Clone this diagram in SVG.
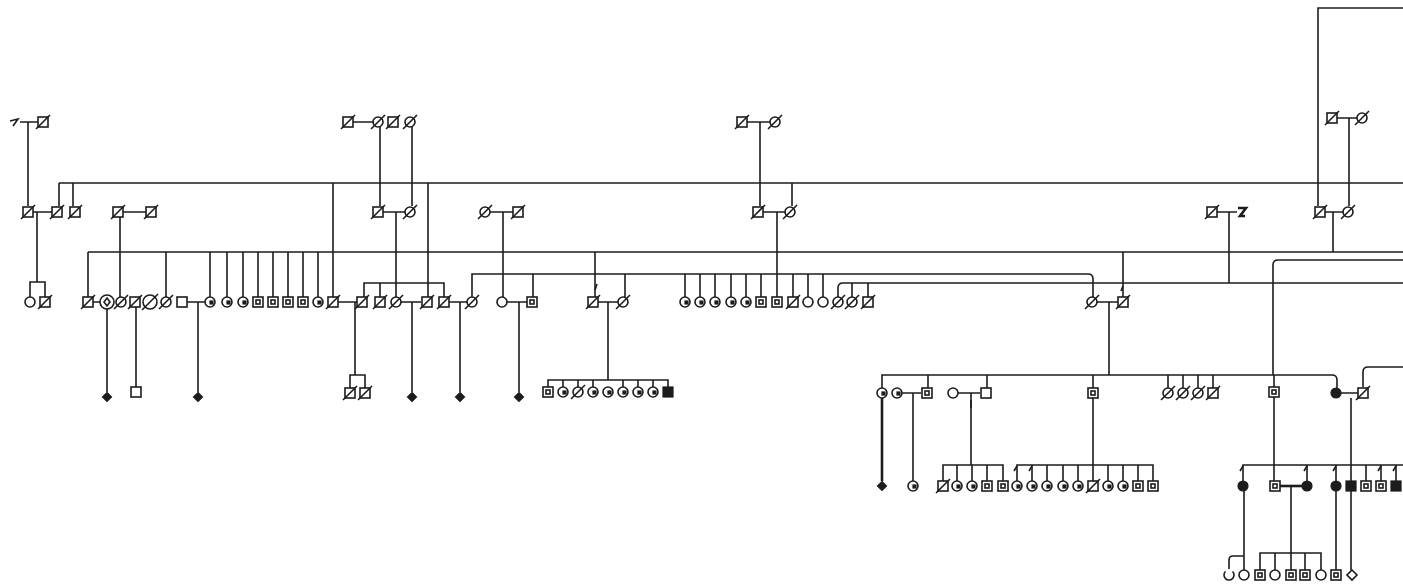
<svg xmlns="http://www.w3.org/2000/svg" xmlns:xlink="http://www.w3.org/1999/xlink" width="1403" height="588" viewBox="0 0 1403 588">
<style>
.s{fill:#fff;stroke:#1c1c1c;stroke-width:1.6}
.k{fill:#1c1c1c;stroke:#1c1c1c;stroke-width:1.2}
.ln{fill:none;stroke:#1c1c1c;stroke-width:1.6}
.th{fill:none;stroke:#1c1c1c;stroke-width:2.6}
</style>
<defs>
<g id="sq"><rect class="s" x="-5" y="-5" width="10" height="10"/></g>
<g id="sqd"><rect class="s" x="-5" y="-5" width="10" height="10"/><line class="ln" x1="-7" y1="7" x2="7" y2="-7"/></g>
<g id="sqg"><rect class="s" x="-5" y="-5" width="10" height="10"/><rect class="s" x="-2" y="-2" width="4" height="4"/></g>
<g id="ci"><circle class="s" r="5"/></g>
<g id="cid"><circle class="s" r="5"/><line class="ln" x1="-7" y1="7" x2="7" y2="-7"/></g>
<g id="cig"><circle class="s" r="5"/><rect class="k" x="0" y="-1" width="3" height="3"/></g>
<g id="fci"><circle class="k" r="5"/></g>
<g id="fsq"><rect class="k" x="-5" y="-5" width="10" height="10"/></g>
<g id="dia"><path class="k" d="M0 -4.5L4.5 0L0 4.5L-4.5 0Z"/></g>
<g id="big"><circle class="s" r="7"/><path class="ln" d="M0 -4L3 0L0 4L-3 0Z"/></g>
<g id="bigd"><circle class="s" r="7"/><line class="ln" x1="-8" y1="8" x2="8" y2="-8"/></g>
</defs>
<rect width="1403" height="588" fill="#fff"/>

<g id="connectors" class="ln">
<path d="M1318 206V8H1403"/>
<path d="M20 122H38M28 122V206"/>
<path d="M353 122H373M380 127V206M412 127V206"/>
<path d="M747 122H770M760 122V206"/>
<path d="M1337 118H1357M1349 118V206"/>
<path d="M59 183H1403M59 183V206M73 183V206M333 183V297M428 183V297M792 183V206"/>
<path d="M33 212H52M37 212V282M30 297V282H45V297"/>
<path d="M123 212H146M120 212V297"/>
<path d="M383 212H405M396 212V297"/>
<path d="M490 212H513M503 212V297"/>
<path d="M763 212H785M777 212V297"/>
<path d="M1217 212H1237M1229 212V283"/>
<path d="M1325 212H1343M1333 212V252"/>
<path d="M88 252H1403M88 252V297M166 252V297M210 252V297M227 252V297M243 252V297M258 252V297M273 252V297M288 252V297M303 252V297M318 252V297M595 252V297M1123 252V297"/>
<path d="M472 297V274H1088Q1093 274 1093 279V297"/>
<path d="M533 274V297M625 274V297M685 274V297M700 274V297M715 274V297M731 274V297M746 274V297M761 274V297M793 274V297M808 274V297M823 274V297"/>
<path d="M838 297V288Q838 283 843 283H1403M852 283V297M868 283V297"/>
<path d="M1273 375V265Q1273 260 1278 260H1403"/>
<path d="M364 297V283H444V297M380 283V297"/>
<path d="M93 302H100M107 309V392M136 307V387"/>
<path d="M187 302H205M198 302V392"/>
<path d="M338 302H357M355 302V375M350 388V375H365V388"/>
<path d="M401 302H421M412 302V392"/>
<path d="M449 302H467M460 302V392"/>
<path d="M507 302H527M519 302V392"/>
<path d="M598 302H618M608 302V380M548 387V380H668V387M563 380V387M578 380V387M593 380V387M623 380V387M638 380V387M653 380V387"/>
<path d="M1097 302H1118M1109 302V375"/>
<path d="M882 388V375H1332Q1337 375 1337 380V388M928 375V388M987 375V388M1093 375V388M1168 375V388M1183 375V388M1198 375V388M1213 375V388M1274 375V387"/>
<path d="M902 393H921M913 393V481"/>
<path d="M958 393H980M971 393V465M943 481V465H1003V481M957 465V481M972 465V481M987 465V481"/>
<path d="M1093 398V481M1017 481V465H1153V481M1032 465V481M1047 465V481M1063 465V481M1078 465V481M1108 465V481M1123 465V481M1138 465V481"/>
<path class="th" d="M882 398V481"/>
<path d="M1341 393H1358M1363 387V372Q1363 367 1368 367H1403M1351 398V570"/>
<path d="M1274 397V481M1243 481V465H1403M1307 465V481M1336 465V481M1366 465V481M1381 465V481M1396 465V481"/>
<path class="th" d="M1280 486H1302"/>
<path d="M1291 486V570M1260 570V553H1321V570M1275 553V570M1305 553V570"/>
<path d="M1244 491V570M1244 556H1233Q1229 556 1229 560V569M1336 491V570"/>
<path d="M971 400V408M597 284l-2 6M1123 286l-2 5M1240 471l3 -5M1304 471l3 -5M1333 471l3 -5M1378 471l3 -5M1393 471l3 -5M1014 471l3 -5M1029 471l3 -5"/>
</g>

<g id="row1">
<g id="r1-15"><path class="ln" d="M10 121L18 119L13 126"/></g>
<g id="r1-43"><use href="#sqd" x="43" y="122"/></g>
<g id="r1-348"><use href="#sqd" x="348" y="122"/></g>
<g id="r1-378"><use href="#cid" x="378" y="122"/></g>
<g id="r1-393"><use href="#sqd" x="393" y="122"/></g>
<g id="r1-410"><use href="#cid" x="410" y="122"/></g>
<g id="r1-742"><use href="#sqd" x="742" y="122"/></g>
<g id="r1-775"><use href="#cid" x="775" y="122"/></g>
<g id="r1-1332"><use href="#sqd" x="1332" y="118"/></g>
<g id="r1-1362"><use href="#cid" x="1362" y="118"/></g>
</g>

<g id="row2">
<g id="r2-28"><use href="#sqd" x="28" y="212"/></g>
<g id="r2-57"><use href="#sqd" x="57" y="212"/></g>
<g id="r2-75"><use href="#sqd" x="75" y="212"/></g>
<g id="r2-118"><use href="#sqd" x="118" y="212"/></g>
<g id="r2-151"><use href="#sqd" x="151" y="212"/></g>
<g id="r2-378"><use href="#sqd" x="378" y="212"/></g>
<g id="r2-410"><use href="#cid" x="410" y="212"/></g>
<g id="r2-485"><use href="#cid" x="485" y="212"/></g>
<g id="r2-518"><use href="#sqd" x="518" y="212"/></g>
<g id="r2-758"><use href="#sqd" x="758" y="212"/></g>
<g id="r2-790"><use href="#cid" x="790" y="212"/></g>
<g id="r2-1212"><use href="#sqd" x="1212" y="212"/></g>
<g id="r2-1242"><path class="th" d="M1238 208H1246L1240 216H1245"/></g>
<g id="r2-1320"><use href="#sqd" x="1320" y="212"/></g>
<g id="r2-1348"><use href="#cid" x="1348" y="212"/></g>
</g>

<g id="row3">
<g id="r3-30"><use href="#ci" x="30" y="302"/></g>
<g id="r3-45"><use href="#sqd" x="45" y="302"/></g>
<g id="r3-88"><use href="#sqd" x="88" y="302"/></g>
<g id="r3-107"><use href="#big" x="107" y="302"/></g>
<g id="r3-121"><use href="#cid" x="121" y="302"/></g>
<g id="r3-135"><use href="#sqd" x="135" y="302"/></g>
<g id="r3-150"><use href="#bigd" x="150" y="302"/></g>
<g id="r3-166"><use href="#cid" x="166" y="302"/></g>
<g id="r3-182"><use href="#sq" x="182" y="302"/></g>
<g id="r3-210"><use href="#cig" x="210" y="302"/></g>
<g id="r3-227"><use href="#cig" x="227" y="302"/></g>
<g id="r3-243"><use href="#cig" x="243" y="302"/></g>
<g id="r3-258"><use href="#sqg" x="258" y="302"/></g>
<g id="r3-273"><use href="#sqg" x="273" y="302"/></g>
<g id="r3-288"><use href="#sqg" x="288" y="302"/></g>
<g id="r3-303"><use href="#sqg" x="303" y="302"/></g>
<g id="r3-318"><use href="#cig" x="318" y="302"/></g>
<g id="r3-333"><use href="#sqd" x="333" y="302"/></g>
<g id="r3-362"><use href="#sqd" x="362" y="302"/></g>
<g id="r3-380"><use href="#sqd" x="380" y="302"/></g>
<g id="r3-396"><use href="#cid" x="396" y="302"/></g>
<g id="r3-427"><use href="#sqd" x="427" y="302"/></g>
<g id="r3-444"><use href="#sqd" x="444" y="302"/></g>
<g id="r3-472"><use href="#cid" x="472" y="302"/></g>
<g id="r3-502"><use href="#ci" x="502" y="302"/></g>
<g id="r3-532"><use href="#sqg" x="532" y="302"/></g>
<g id="r3-593"><use href="#sqd" x="593" y="302"/></g>
<g id="r3-623"><use href="#cid" x="623" y="302"/></g>
<g id="r3-685"><use href="#cig" x="685" y="302"/></g>
<g id="r3-700"><use href="#cig" x="700" y="302"/></g>
<g id="r3-715"><use href="#cig" x="715" y="302"/></g>
<g id="r3-731"><use href="#cig" x="731" y="302"/></g>
<g id="r3-746"><use href="#cig" x="746" y="302"/></g>
<g id="r3-761"><use href="#sqg" x="761" y="302"/></g>
<g id="r3-777"><use href="#sqg" x="777" y="302"/></g>
<g id="r3-793"><use href="#sqd" x="793" y="302"/></g>
<g id="r3-808"><use href="#ci" x="808" y="302"/></g>
<g id="r3-823"><use href="#ci" x="823" y="302"/></g>
<g id="r3-838"><use href="#cid" x="838" y="302"/></g>
<g id="r3-852"><use href="#cid" x="852" y="302"/></g>
<g id="r3-868"><use href="#sqd" x="868" y="302"/></g>
<g id="r3-1092"><use href="#cid" x="1092" y="302"/></g>
<g id="r3-1123"><use href="#sqd" x="1123" y="302"/></g>
</g>

<g id="row4">
<g id="r4-107"><use href="#dia" x="107" y="397"/></g>
<g id="r4-136"><use href="#sq" x="136" y="392"/></g>
<g id="r4-198"><use href="#dia" x="198" y="397"/></g>
<g id="r4-350"><use href="#sqd" x="350" y="393"/></g>
<g id="r4-365"><use href="#sqd" x="365" y="393"/></g>
<g id="r4-413"><use href="#dia" x="412" y="397"/></g>
<g id="r4-460"><use href="#dia" x="460" y="397"/></g>
<g id="r4-519"><use href="#dia" x="519" y="397"/></g>
<g id="r4-548"><use href="#sqg" x="548" y="392"/></g>
<g id="r4-563"><use href="#cig" x="563" y="392"/></g>
<g id="r4-578"><use href="#cid" x="578" y="392"/></g>
<g id="r4-593"><use href="#cig" x="593" y="392"/></g>
<g id="r4-608"><use href="#cig" x="608" y="392"/></g>
<g id="r4-623"><use href="#cig" x="623" y="392"/></g>
<g id="r4-638"><use href="#cig" x="638" y="392"/></g>
<g id="r4-653"><use href="#cig" x="653" y="392"/></g>
<g id="r4-668"><use href="#fsq" x="668" y="392"/></g>
<g id="r4-881"><use href="#cig" x="882" y="393"/></g>
<g id="r4-897"><use href="#cig" x="897" y="393"/></g>
<g id="r4-926"><use href="#sqg" x="927" y="393"/></g>
<g id="r4-953"><use href="#ci" x="953" y="393"/></g>
<g id="r4-987"><use href="#sq" x="986" y="393"/></g>
<g id="r4-1093"><use href="#sqg" x="1093" y="393"/></g>
<g id="r4-1168"><use href="#cid" x="1168" y="393"/></g>
<g id="r4-1183"><use href="#cid" x="1183" y="393"/></g>
<g id="r4-1198"><use href="#cid" x="1198" y="393"/></g>
<g id="r4-1213"><use href="#sqd" x="1213" y="393"/></g>
<g id="r4-1274"><use href="#sqg" x="1274" y="392"/></g>
<g id="r4-1336"><use href="#fci" x="1336" y="393"/></g>
<g id="r4-1363"><use href="#sqd" x="1363" y="393"/></g>
</g>

<g id="row5">
<g id="r5-883"><use href="#dia" x="882" y="486"/></g>
<g id="r5-913"><use href="#cig" x="913" y="486"/></g>
<g id="r5-943"><use href="#sqd" x="943" y="486"/></g>
<g id="r5-957"><use href="#cig" x="957" y="486"/></g>
<g id="r5-972"><use href="#cig" x="972" y="486"/></g>
<g id="r5-987"><use href="#sqg" x="987" y="486"/></g>
<g id="r5-1003"><use href="#sqg" x="1003" y="486"/></g>
<g id="r5-1017"><use href="#cig" x="1017" y="486"/></g>
<g id="r5-1032"><use href="#cig" x="1032" y="486"/></g>
<g id="r5-1047"><use href="#cig" x="1047" y="486"/></g>
<g id="r5-1063"><use href="#cig" x="1063" y="486"/></g>
<g id="r5-1078"><use href="#cig" x="1078" y="486"/></g>
<g id="r5-1093"><use href="#sqd" x="1093" y="486"/></g>
<g id="r5-1108"><use href="#cig" x="1108" y="486"/></g>
<g id="r5-1123"><use href="#cig" x="1123" y="486"/></g>
<g id="r5-1138"><use href="#sqg" x="1138" y="486"/></g>
<g id="r5-1153"><use href="#sqg" x="1153" y="486"/></g>
<g id="r5-1243"><use href="#fci" x="1243" y="486"/></g>
<g id="r5-1275"><use href="#sqg" x="1275" y="486"/></g>
<g id="r5-1307"><use href="#fci" x="1307" y="486"/></g>
<g id="r5-1336"><use href="#fci" x="1336" y="486"/></g>
<g id="r5-1351"><use href="#fsq" x="1351" y="486"/></g>
<g id="r5-1366"><use href="#sqg" x="1366" y="486"/></g>
<g id="r5-1381"><use href="#sqg" x="1381" y="486"/></g>
<g id="r5-1396"><use href="#fsq" x="1396" y="486"/></g>
</g>

<g id="row6">
<g id="r6-1229"><path class="ln" d="M1225.5 571.5A5 5 0 1 0 1232.5 571.5"/></g>
<g id="r6-1244"><use href="#ci" x="1244" y="575"/></g>
<g id="r6-1260"><use href="#sqg" x="1260" y="575"/></g>
<g id="r6-1275"><use href="#ci" x="1275" y="575"/></g>
<g id="r6-1291"><use href="#sqg" x="1291" y="575"/></g>
<g id="r6-1305"><use href="#sqg" x="1305" y="575"/></g>
<g id="r6-1321"><use href="#ci" x="1321" y="575"/></g>
<g id="r6-1336"><use href="#sqg" x="1336" y="575"/></g>
<g id="r6-1352"><path class="s" d="M1352 570L1357 575L1352 580L1347 575Z"/></g>
</g>
</svg>
